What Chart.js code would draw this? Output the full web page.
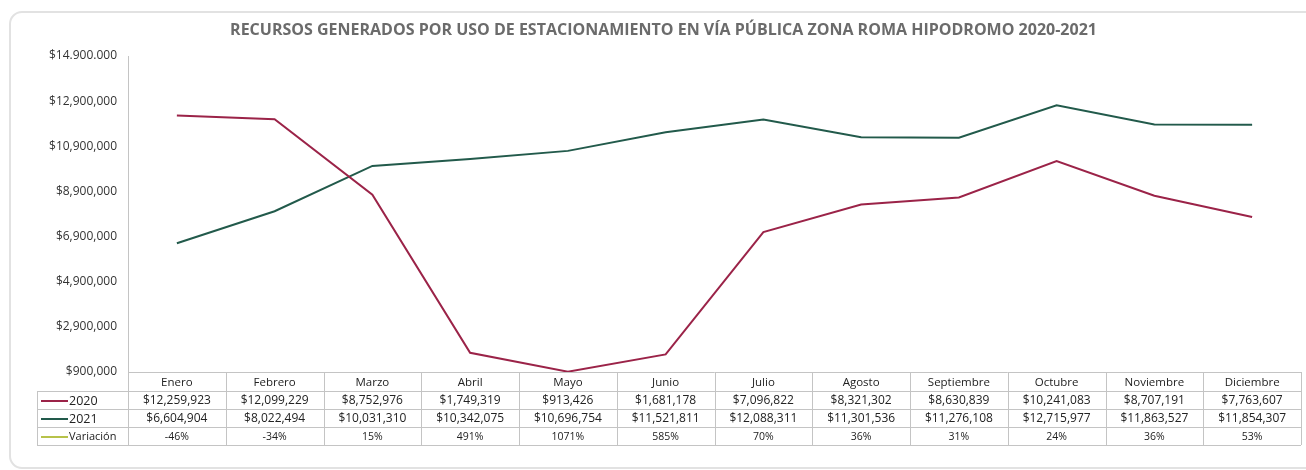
<!DOCTYPE html>
<html>
<head>
<meta charset="utf-8">
<script src="https://cdn.jsdelivr.net/npm/chart.js@4.4.1/dist/chart.umd.min.js"></script>
<style>
    html, body { margin: 0; padding: 0; background: #fff; }
    #wrap { width: 1306px; height: 470px; }
</style>
</head>
<body>
<div id="wrap"><canvas id="chart" width="1306" height="470"></canvas></div>
<script>
// ============================================================================
// DATA
// ============================================================================
const meses = ['Enero', 'Febrero', 'Marzo', 'Abril', 'Mayo', 'Junio', 'Julio',
    'Agosto', 'Septiembre', 'Octubre', 'Noviembre', 'Diciembre'];

const recursos2020 = [12259923, 12099229, 8752976, 1749319, 913426, 1681178,
    7096822, 8321302, 8630839, 10241083, 8707191, 7763607];

const recursos2021 = [6604904, 8022494, 10031310, 10342075, 10696754, 11521811,
    12088311, 11301536, 11276108, 12715977, 11863527, 11854307];

// percent, as printed in the table
const variacion = [-46, -34, 15, 491, 1071, 585, 70, 36, 31, 24, 36, 53];

const yTicks = [900000, 2900000, 4900000, 6900000, 8900000, 10900000, 12900000, 14900000];

const COLOR_2020 = '#9b2348';
const COLOR_2021 = '#225a4b';
const COLOR_VAR = '#b7c24a';
const FONT = '"Open Sans", "Noto Sans", sans-serif';

const money = v => '$' + v.toLocaleString('en-US');

// ============================================================================
// PLUGINS
// ============================================================================
const cardPlugin = {
    id: 'card',
    beforeDraw(chart) {
        const ctx = chart.ctx;
        ctx.save();
        ctx.fillStyle = '#fff';
        ctx.fillRect(0, 0, chart.width, chart.height);
        ctx.beginPath();
        ctx.roundRect(10, 12, chart.width + 20, chart.height - 14, 12);
        ctx.strokeStyle = '#e2e2e2';
        ctx.lineWidth = 2;
        ctx.stroke();
        ctx.restore();
    }
};

// data table under the plot (Excel style)
const tablePlugin = {
    id: 'dataTable',
    afterDraw(chart) {
        const ctx = chart.ctx;
        const x = chart.scales.x;
        const left = x.left, right = x.right;
        const colW = (right - left) / meses.length;
        const top = chart.chartArea.bottom;
        const rowH = [19, 18, 18, 18];
        const rows = [top];
        rowH.forEach(h => rows.push(rows[rows.length - 1] + h));
        const legendLeft = 37;

        ctx.save();
        ctx.strokeStyle = '#c4c4c4';
        ctx.lineWidth = 1;
        ctx.beginPath();
        // horizontal lines
        ctx.moveTo(left, rows[0] + 0.5); ctx.lineTo(right, rows[0] + 0.5);
        for (let r = 1; r < rows.length; r++) {
            ctx.moveTo(legendLeft, rows[r] + 0.5); ctx.lineTo(right, rows[r] + 0.5);
        }
        // vertical lines
        ctx.moveTo(legendLeft + 0.5, rows[1]); ctx.lineTo(legendLeft + 0.5, rows[4]);
        for (let i = 0; i <= meses.length; i++) {
            const cx = Math.round(left + i * colW) + 0.5;
            ctx.moveTo(cx, rows[0]); ctx.lineTo(cx, rows[4]);
        }
        ctx.stroke();

        ctx.fillStyle = '#222';
        ctx.textAlign = 'center';
        ctx.textBaseline = 'middle';
        const lines = [meses, recursos2020.map(money), recursos2021.map(money), variacion.map(v => v + '%')];
        lines.forEach((vals, r) => {
            const cy = (rows[r] + rows[r + 1]) / 2 + 1;
            ctx.font = (r === 3 ? '10.5px ' : r === 0 ? '11.5px ' : '12px ') + FONT;
            vals.forEach((t, i) => {
                ctx.fillText(t, x.getPixelForValue(i), cy);
            });
        });

        // legend keys
        const keys = [['2020', COLOR_2020], ['2021', COLOR_2021], ['Variación', COLOR_VAR]];
        keys.forEach(([label, color], k) => {
            const cy = (rows[k + 1] + rows[k + 2]) / 2 + 1;
            ctx.strokeStyle = color;
            ctx.lineWidth = 2;
            ctx.beginPath();
            ctx.moveTo(41, cy); ctx.lineTo(68, cy);
            ctx.stroke();
            ctx.fillStyle = '#222';
            ctx.textAlign = 'left';
            ctx.font = (k === 2 ? '11px ' : '12.5px ') + FONT;
            ctx.fillText(label, 69, cy);
        });
        ctx.restore();
    }
};

// ============================================================================
// CHART
// ============================================================================
const ctx = document.getElementById('chart').getContext('2d');

new Chart(ctx, {
    type: 'line',
    data: {
        labels: meses,
        datasets: [
            {
                label: '2020',
                data: recursos2020,
                borderColor: COLOR_2020,
                backgroundColor: COLOR_2020,
                borderWidth: 2,
                pointRadius: 0,
                tension: 0
            },
            {
                label: '2021',
                data: recursos2021,
                borderColor: COLOR_2021,
                backgroundColor: COLOR_2021,
                borderWidth: 2,
                pointRadius: 0,
                tension: 0
            },
            {
                label: 'Variación',
                data: variacion.map(v => v / 100),
                borderColor: COLOR_VAR,
                backgroundColor: COLOR_VAR,
                borderWidth: 2,
                pointRadius: 0,
                tension: 0
            }
        ]
    },
    options: {
        responsive: false,
        animation: false,
        layout: {
            padding: { top: 0, left: 26, right: 5, bottom: 98 }
        },
        plugins: {
            legend: { display: false },
            tooltip: { enabled: false },
            title: {
                display: true,
                text: 'RECURSOS GENERADOS POR USO DE ESTACIONAMIENTO EN VÍA PÚBLICA ZONA ROMA HIPODROMO 2020-2021',
                color: '#6b6b6b',
                font: { family: FONT, size: 16, weight: 'bold' },
                padding: { top: 21, bottom: 15.8 }
            }
        },
        scales: {
            x: {
                display: false,
                offset: true
            },
            y: {
                min: 900000,
                max: 14900000,
                afterBuildTicks: scale => {
                    scale.ticks = yTicks.map(v => ({ value: v }));
                },
                afterFit: scale => { scale.width = 102; },
                grid: { display: false, drawTicks: false },
                border: { display: true, color: '#c4c4c4', width: 1 },
                ticks: {
                    color: '#333',
                    padding: 11,
                    font: { family: FONT, size: 12 },
                    callback: v => v === 14900000 ? '$14.900.000' : money(v)
                }
            }
        }
    },
    plugins: [cardPlugin, tablePlugin]
});
</script>
</body>
</html>
